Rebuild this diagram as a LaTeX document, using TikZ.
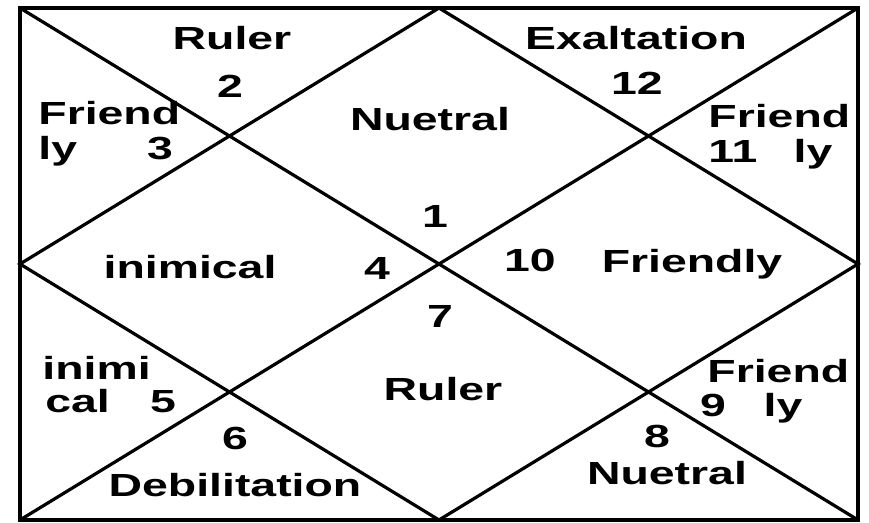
\documentclass[tikz,border=0pt]{standalone}
\usepackage{fontspec}
\setmainfont{Liberation Sans}
\newfontfamily\chartfont[FakeStretch=1.45]{Liberation Sans}
\usetikzlibrary{positioning}

\begin{document}
\begin{tikzpicture}[
  x=0.5pt, y=-0.5pt,
  frame/.style = {line width=2pt},
  rule/.style  = {line width=1.6pt},
  txt/.style   = {inner sep=0pt, anchor=base,
                  font=\chartfont\bfseries\fontsize{16}{18}\selectfont},
  txtl/.style  = {txt, anchor=base west}
]
\useasboundingbox (0,0) rectangle (869,523);

% Corners and midpoints
\coordinate (nw) at (20,8);
\coordinate (ne) at (858,8);
\coordinate (se) at (858,520);
\coordinate (sw) at (20,520);
\coordinate (n)  at (439,8);
\coordinate (e)  at (858,264);
\coordinate (s)  at (439,520);
\coordinate (w)  at (20,264);

% Chart lines
\draw[frame] (nw) -- (ne) -- (se) -- (sw) -- cycle;
\draw[rule] (nw) -- (se);
\draw[rule] (ne) -- (sw);
\draw[rule] (n) -- (e) -- (s) -- (w) -- cycle;

% Upper houses
\node[txt]  (rul2)  at (232,50)  {Ruler};
\node[txt]  (h2)    at (230,98)  {2};
\node[txtl] (fri3)  at (38,125)  {Friend};
\node[txtl] (ly3)   at (38,160)  {ly};
\node[txt]  (h3)    at (160,160) {3};
\node[txt]  (exa12) at (636,50)  {Exaltation};
\node[txt]  (h12)   at (637,95)  {12};
\node[txtl] (fri11) at (708,128) {Friend};
\node[txtl] (h11)   at (708,163) {11};
\node[txt]  (ly11)  at (813,163) {ly};
\node[txt]  (neu1)  at (430,131) {Nuetral};
\node[txt]  (h1)    at (435,228) {1};

% Middle houses
\node[txt]  (ini4)  at (190,279) {inimical};
\node[txt]  (h4)    at (377,280) {4};
\node[txt]  (h10)   at (530,272) {10};
\node[txt]  (fri10) at (692,273) {Friendly};
\node[txt]  (h7)    at (440,328) {7};
\node[txt]  (rul7)  at (443,401) {Ruler};

% Lower houses
\node[txtl] (ini5)  at (42,380)  {inimi};
\node[txtl] (cal5)  at (45,413)  {cal};
\node[txt]  (h5)    at (163,413) {5};
\node[txt]  (h6)    at (235,450) {6};
\node[txt]  (deb6)  at (235,497) {Debilitation};
\node[txtl] (fri9)  at (707,383) {Friend};
\node[txt]  (h9)    at (713,417) {9};
\node[txt]  (ly9)   at (783,417) {ly};
\node[txt]  (h8)    at (657,448) {8};
\node[txt]  (neu8)  at (667,485) {Nuetral};
\end{tikzpicture}
\end{document}
